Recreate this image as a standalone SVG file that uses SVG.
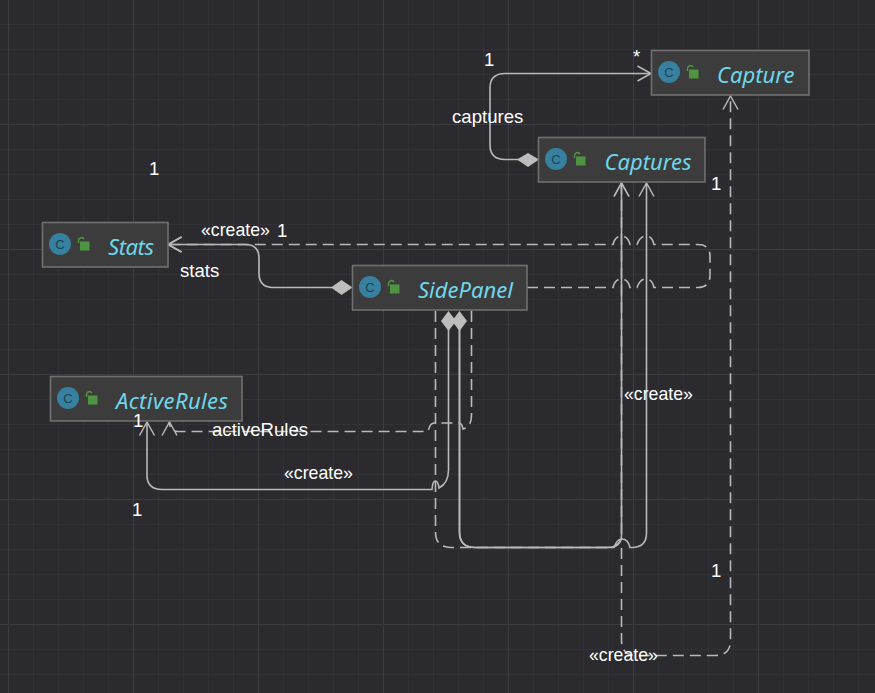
<svg xmlns="http://www.w3.org/2000/svg" xmlns:xlink="http://www.w3.org/1999/xlink" width="875" height="693" viewBox="0 0 875 693">
<style>
.box{fill:#3c3c3c;stroke:#707070;stroke-width:1.6}
.name{font-family:"Noto Sans","Open Sans",sans-serif;font-style:italic;font-size:22px;fill:#6fd6ea}
.ic{font-family:"Liberation Sans",sans-serif;font-size:13px;fill:#1f4356;text-anchor:middle}
.lbl{font-family:"Liberation Sans",Arial,sans-serif;font-size:18.6px;fill:#fff}
.cr{font-size:17.7px}
.s,.d,.ah{fill:none;stroke:#b9b9b9;stroke-width:1.6}
.d{stroke-dasharray:11 6}
.ah{stroke-width:1.5}
.dm{fill:#bdbdbd}
</style>
<defs>
<pattern id="g1" width="25" height="25" patternUnits="userSpaceOnUse" x="8" y="-1"><path d="M0.5 0V25M0 0.5H25" fill="none" stroke="#323135"/></pattern>
<pattern id="g2" width="125" height="125" patternUnits="userSpaceOnUse" x="8" y="-1"><path d="M0.5 0V125M0 0.5H125" fill="none" stroke="#3d3c40"/></pattern>
<marker id="arr" markerUnits="userSpaceOnUse" markerWidth="20" markerHeight="22" refX="15" refY="9" orient="auto"><path class="ah" d="M1.500 1.500L15 9L1.500 16.500"/></marker>
<g id="icon"><circle cx="17.5" cy="21.5" r="11" fill="#37809f"/><path d="M36 20.500V18A3 3 0 0 1 41.500 16.500" fill="none" stroke="#4f9440" stroke-width="1.5"/><rect x="37.5" y="19" width="9.500" height="9" fill="#4f9440"/></g>
</defs>
<rect width="875" height="693" fill="#2b2a2e"/>
<rect width="875" height="693" fill="url(#g1)"/>
<rect width="875" height="693" fill="url(#g2)"/>
<g id="connectors">
<path class="s" d="M520 159.500H505Q490 159.500 490 145V88Q490 73.500 505 73.500H651" marker-end="url(#arr)"/>
<path class="d" d="M621.500 548V640Q621.500 655.500 636 655.500H715Q730.500 655.500 730.500 640V96" marker-end="url(#arr)"/>
<path class="d" d="M527 287.500H613Q615 279 621.500 279Q628 279 630 287.500H637Q640 279 646 279Q652 279 654 287.500H698Q710 287.500 710 275V256Q710 244.500 698 244.500H654Q652 236 646 236Q640 236 637 244.500H630Q628 236 621.500 236Q615 236 613 244.500H168" marker-end="url(#arr)"/>
<path class="s" d="M335 287.500H273Q259 287.500 259 273V258Q259 244.500 245 244.500H168" marker-end="url(#arr)"/>
<path class="d" d="M435.500 311V532Q435.500 547.500 451 547.500H607Q621.500 547.500 621.500 535V183" marker-end="url(#arr)"/>
<path class="s" d="M459.500 325V532Q459.500 547.500 475 547.500H607Q621.500 547.500 621.500 535V183" marker-end="url(#arr)"/>
<path class="s" d="M459.500 325V532Q459.500 547.500 475 547.500H614Q617 539 622 539Q628 539 630 547.500H632Q646.500 547.500 646.500 533V183" marker-end="url(#arr)"/>
<path class="s" d="M448.500 325V470Q448.500 483 439 488Q438 481 435.500 481Q432.500 481 432 489.500H162Q147 489.500 147 475V422" marker-end="url(#arr)"/>
<path class="d" d="M471.500 311V415Q471.500 427 463 429Q462 423 459 423H434Q430 423 428 431.500H178Q169.500 431.500 169.500 422" marker-end="url(#arr)"/>
<path class="dm" d="M517 159.500L528 153L539 159.500L528 167Z"/>
<path class="dm" d="M331 287.500L341.500 280L352.500 287.500L341.500 295Z"/>
<path class="dm" d="M448.500 311L456 321L448.500 331L441 321Z"/>
<path class="dm" d="M459.500 311L467 321L459.500 331L452 321Z"/>
</g>
<g id="Capture"><rect class="box" x="651.500" y="50.500" width="157.500" height="44.500"/><use xlink:href="#icon" href="#icon" x="651.500" y="50.500"/><text class="ic" x="669" y="76.500">C</text><text class="name" x="717" y="83">Capture</text></g>
<g id="Captures"><rect class="box" x="538.500" y="137.500" width="166.500" height="44.500"/><use xlink:href="#icon" href="#icon" x="538.500" y="137.500"/><text class="ic" x="556" y="163.500">C</text><text class="name" x="604.500" y="170">Captures</text></g>
<g id="Stats"><rect class="box" x="42.500" y="222.500" width="125.500" height="44.500"/><use xlink:href="#icon" href="#icon" x="42.500" y="222.500"/><text class="ic" x="60" y="248.500">C</text><text class="name" x="108" y="255" textLength="46">Stats</text></g>
<g id="SidePanel"><rect class="box" x="352.500" y="265.500" width="174.500" height="44.500"/><use xlink:href="#icon" href="#icon" x="352.500" y="265.500"/><text class="ic" x="370" y="291.500">C</text><text class="name" x="418" y="298">SidePanel</text></g>
<g id="ActiveRules"><rect class="box" x="50.500" y="376.500" width="191.500" height="44.500"/><use xlink:href="#icon" href="#icon" x="50.500" y="376.500"/><text class="ic" x="68" y="402.500">C</text><text class="name" x="116" y="409" textLength="112">ActiveRules</text></g>
<g id="labels">
<text class="lbl" x="484" y="66">1</text>
<text class="lbl" x="633" y="63">*</text>
<text class="lbl" x="452" y="123">captures</text>
<text class="lbl" x="711" y="190">1</text>
<text class="lbl" x="149" y="175">1</text>
<text class="lbl cr" x="201" y="236">«create»</text>
<text class="lbl" x="277" y="237">1</text>
<text class="lbl" x="180" y="277">stats</text>
<text class="lbl" x="133" y="427">1</text>
<text class="lbl" x="212" y="436">activeRules</text>
<text class="lbl cr" x="284" y="479">«create»</text>
<text class="lbl" x="132" y="516">1</text>
<text class="lbl cr" x="624" y="400">«create»</text>
<text class="lbl" x="711" y="577">1</text>
<text class="lbl cr" x="589" y="661">«create»</text>
</g>
</svg>
